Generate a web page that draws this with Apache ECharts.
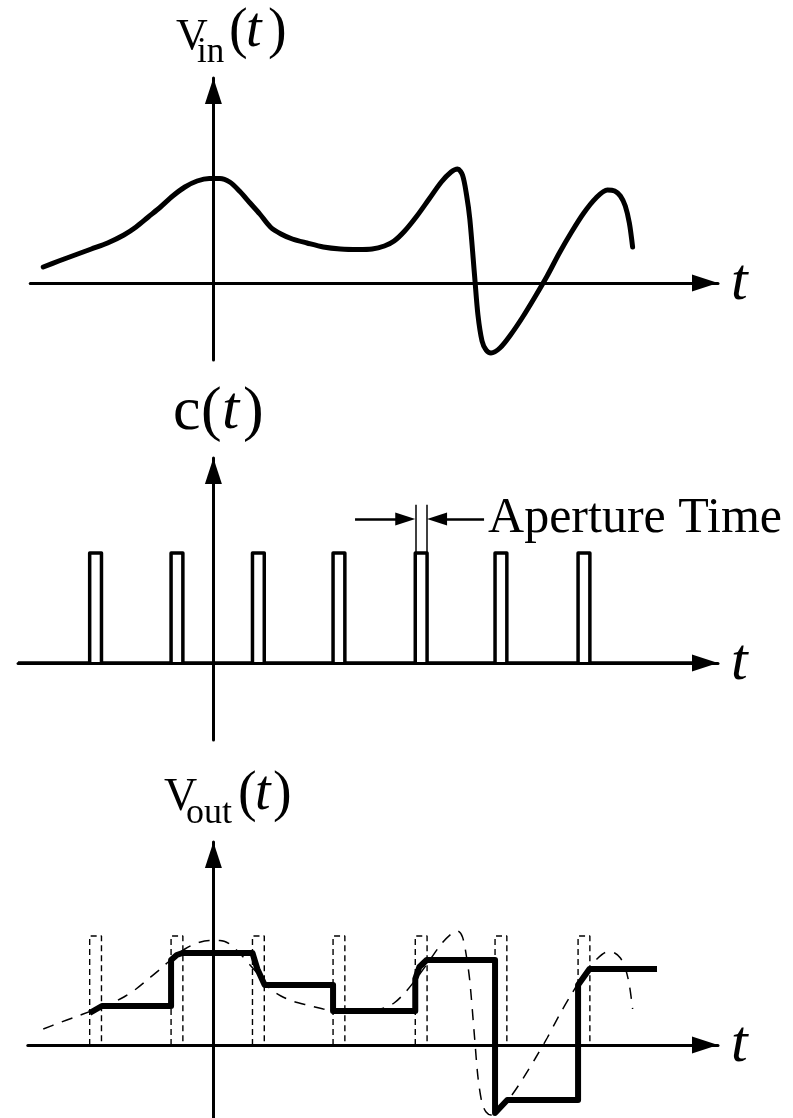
<!DOCTYPE html>
<html>
<head>
<meta charset="utf-8">
<script src="https://cdn.jsdelivr.net/npm/echarts@6/dist/echarts.min.js"></script>
<style>
html, body { margin: 0; padding: 0; background: #fff; }
#chart { width: 793px; height: 1118px; }
</style>
</head>
<body>
<div id="chart"></div>
<script>
// Input waveform v_in(t): time in sampling periods, amplitude in volts
const vinT = [-2.09, -1.90, -1.70, -1.50, -1.30, -1.10, -0.95, -0.80, -0.65, -0.50, -0.35, -0.20, -0.05, 0.08, 0.20, 0.32, 0.45, 0.57, 0.70, 0.83, 0.97, 1.15, 1.35, 1.56, 1.78, 1.95, 2.10, 2.22, 2.35, 2.50, 2.65, 2.80, 2.92, 3.00, 3.06, 3.11, 3.15, 3.21, 3.25, 3.30, 3.35, 3.41, 3.52, 3.65, 3.80, 3.95, 4.10, 4.25, 4.40, 4.55, 4.70, 4.84, 4.93, 5.00, 5.06, 5.11, 5.15];
const vinV = [0.16, 0.22, 0.28, 0.34, 0.40, 0.48, 0.56, 0.66, 0.76, 0.87, 0.96, 1.02, 1.045, 1.045, 1.01, 0.92, 0.80, 0.69, 0.56, 0.49, 0.44, 0.40, 0.36, 0.34, 0.335, 0.34, 0.37, 0.42, 0.52, 0.67, 0.84, 1.01, 1.11, 1.14, 1.08, 0.88, 0.64, 0.06, -0.32, -0.58, -0.67, -0.70, -0.65, -0.52, -0.34, -0.14, 0.07, 0.30, 0.51, 0.70, 0.85, 0.93, 0.92, 0.87, 0.77, 0.60, 0.36];

// Sampling clock c(t): start of each aperture window, its width and pulse height
const apertureStart = [-1.52, -0.52, 0.48, 1.47, 2.48, 3.46, 4.48];
const apertureWidth = 0.145;
const pulseHigh = 1;

// Track-and-hold output v_out(t)
const holdT = [-1.52, -1.37, -0.52, -0.52, -0.45, -0.38, 0.48, 0.54, 0.63, 1.47, 1.47, 2.48, 2.48, 2.53, 2.62, 3.46, 3.46, 3.61, 4.48, 4.48, 4.62, 5.45];
const holdV = [0.32, 0.39, 0.39, 0.85, 0.90, 0.92, 0.92, 0.76, 0.60, 0.60, 0.34, 0.34, 0.66, 0.78, 0.85, 0.85, -0.68, -0.55, -0.55, 0.60, 0.76, 0.76];

// Height of the dashed aperture windows drawn over the output
const windowTop = 1.09;

const pairs = (xs, ys) => xs.map((x, i) => [x, ys[i]]);

// ---- layout (pixels) ----
const PX_T = 81.4;        // pixels per sampling period
const T0_PX = 213.4;      // x pixel of t = 0
const TIP_PX = 718;       // x pixel of the time-axis arrow tip
const X_MAX = (TIP_PX - T0_PX) / PX_T;
const SERIF = "'Liberation Serif', 'DejaVu Serif', serif";

const panels = [
  { xMin: -2.25, top: 78,  height: 282, yMin: -0.77, yMax: 2.05 },   // v_in
  { xMin: -2.40, top: 458, height: 282, yMin: -0.70, yMax: 1.864 },  // c
  { xMin: -2.28, top: 842, height: 276, yMin: -0.73, yMax: 2.03 }    // v_out
];

const axisLine = {
  onZero: true,
  symbol: ['none', 'triangle'],
  symbolSize: [17, 26],
  symbolOffset: [0, -13],
  lineStyle: { color: '#000', width: 3 }
};

const grids = panels.map(p => ({
  left: T0_PX + p.xMin * PX_T,
  width: (X_MAX - p.xMin) * PX_T,
  top: p.top,
  height: p.height,
  containLabel: false,
  outerBoundsMode: 'none'
}));

const xAxes = panels.map((p, i) => ({
  gridIndex: i, type: 'value', min: p.xMin, max: X_MAX,
  axisLine: axisLine,
  axisTick: { show: false }, axisLabel: { show: false }, splitLine: { show: false },
  name: 't', nameLocation: 'end', nameGap: 13,
  nameTextStyle: {
    fontFamily: SERIF, fontStyle: 'italic', fontSize: 60, color: '#000',
    verticalAlign: 'middle', align: 'left', padding: [6, 0, 0, 0]
  }
}));

const yAxes = panels.map((p, i) => ({
  gridIndex: i, type: 'value', min: p.yMin, max: p.yMax,
  axisLine: axisLine,
  axisTick: { show: false }, axisLabel: { show: false }, splitLine: { show: false }
}));

// clock waveform built from the aperture windows
const clockEnd = 5.9;
const clockData = [[panels[1].xMin, 0]];
apertureStart.forEach(s => {
  clockData.push([s, 0], [s, pulseHigh], [s + apertureWidth, pulseHigh], [s + apertureWidth, 0]);
});
clockData.push([clockEnd, 0]);

// aperture annotation on the fifth pulse
const ap0 = apertureStart[4];
const ap1 = ap0 + apertureWidth;
const headLen = 20;                  // arrow head length, px
const headBack = headLen / 2 / PX_T; // head is centred on the line end
const arrowY = 1.31;
const markerLine = { color: '#000', type: 'solid', width: 2.5 };
const guideLine = { color: '#000', type: 'solid', width: 1.5 };

const windowSeries = apertureStart.map(s => ({
  type: 'line', xAxisIndex: 2, yAxisIndex: 2,
  data: [[s, 0], [s, windowTop], [s + apertureWidth, windowTop], [s + apertureWidth, 0]],
  showSymbol: false, silent: true, z: 3,
  lineStyle: { color: '#000', width: 1.4, type: [6, 4] }
}));

const labelParts = [
  // v_in(t)
  { text: 'V', x: 176, base: 52, size: 44 },
  { text: 'in', x: 197, base: 65, size: 35 },
  { text: '(', x: 229, base: 51, size: 56 },
  { text: 't', x: 246, base: 50, size: 56, italic: true },
  { text: ')', x: 268, base: 51, size: 56 },
  // c(t)
  { text: 'c', x: 173, base: 434, size: 62 },
  { text: '(', x: 201, base: 434, size: 62 },
  { text: 't', x: 222, base: 433, size: 62, italic: true },
  { text: ')', x: 243, base: 434, size: 62 },
  // v_out(t)
  { text: 'V', x: 164, base: 813, size: 46 },
  { text: 'out', x: 186, base: 826, size: 36 },
  { text: '(', x: 238, base: 814, size: 56 },
  { text: 't', x: 255, base: 813, size: 56, italic: true },
  { text: ')', x: 273, base: 814, size: 56 }
];

const chart = echarts.init(document.getElementById('chart'), null, { renderer: 'canvas' });
chart.setOption({
  animation: false,
  backgroundColor: '#fff',
  grid: grids,
  xAxis: xAxes,
  yAxis: yAxes,
  graphic: labelParts.map(p => ({
    type: 'text', silent: true,
    x: p.x, y: p.base - 0.3375 * p.size,
    style: {
      text: p.text, fill: '#000',
      font: (p.italic ? 'italic ' : '') + p.size + 'px ' + SERIF,
      align: 'left', verticalAlign: 'middle'
    }
  })),
  series: [
    {
      name: 'vin', type: 'line', xAxisIndex: 0, yAxisIndex: 0,
      data: pairs(vinT, vinV), smooth: 0.3, showSymbol: false, silent: true,
      lineStyle: { color: '#000', width: 5, cap: 'round', join: 'round' }
    },
    {
      name: 'clock', type: 'line', xAxisIndex: 1, yAxisIndex: 1,
      data: clockData, showSymbol: false, silent: true,
      lineStyle: { color: '#000', width: 3.5, join: 'round' },
      markLine: {
        silent: true, animation: false,
        symbol: ['none', 'none'],
        label: { show: false },
        lineStyle: guideLine,
        data: [
          [{ coord: [ap0, 0.96] }, { coord: [ap0, 1.44] }],
          [{ coord: [ap1, 0.96] }, { coord: [ap1, 1.44] }],
          [
            { coord: [ap0 - 0.74, arrowY], lineStyle: markerLine },
            { coord: [ap0 - headBack, arrowY], symbol: 'triangle', symbolSize: [13, headLen] }
          ],
          [
            {
              coord: [ap1 + 0.7, arrowY], lineStyle: markerLine,
              label: {
                show: true, position: 'start', distance: 4, formatter: 'Aperture Time',
                color: '#000', fontFamily: SERIF, fontSize: 50, padding: [10, 0, 0, 0]
              }
            },
            { coord: [ap1 + headBack, arrowY], symbol: 'triangle', symbolSize: [13, headLen] }
          ]
        ]
      }
    },
    {
      name: 'vin sampled', type: 'line', xAxisIndex: 2, yAxisIndex: 2,
      data: pairs(vinT, vinV), smooth: 0.3, showSymbol: false, silent: true, z: 3,
      lineStyle: { color: '#000', width: 1.5, type: [11, 9] }
    },
    ...windowSeries,
    {
      name: 'vout', type: 'line', xAxisIndex: 2, yAxisIndex: 2,
      data: pairs(holdT, holdV), showSymbol: false, silent: true, z: 4,
      lineStyle: { color: '#000', width: 6, join: 'round' }
    }
  ]
});
</script>
</body>
</html>
